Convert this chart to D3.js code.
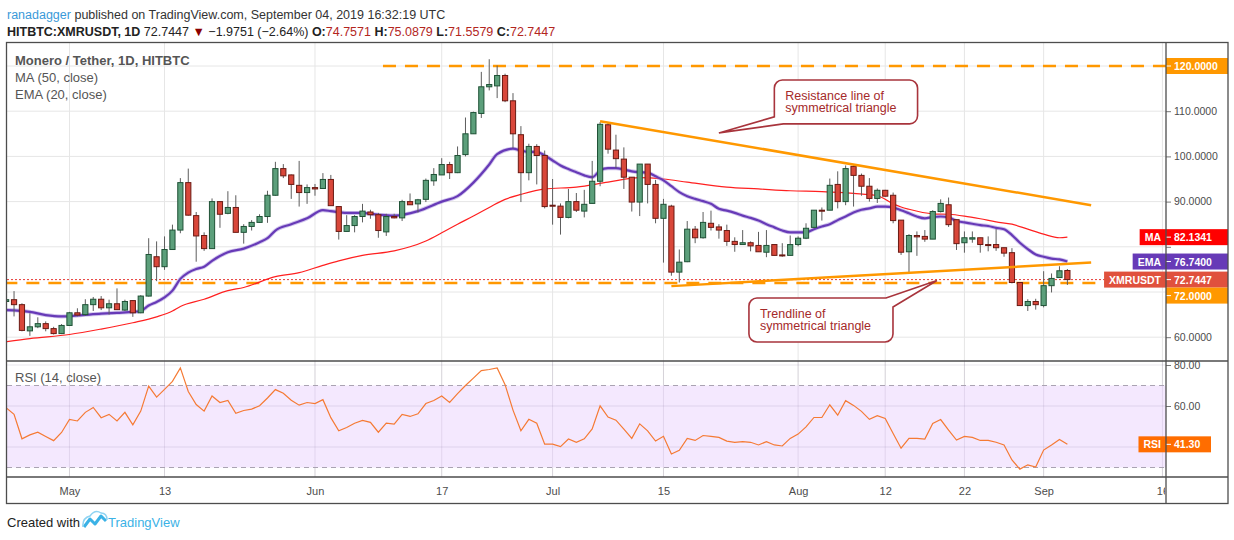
<!DOCTYPE html>
<html>
<head>
<meta charset="utf-8">
<script src="https://cdn.jsdelivr.net/npm/d3@7"></script>
<style>
  body { margin: 0; background: #fff; }
  svg { display: block; font-family: "Liberation Sans", Arial, sans-serif; }
</style>
</head>
<body>
<script>
// daily candles, 2019-04-23 .. 2019-09-04
let firstDay = '2019-04-23', lastDay = '2019-09-05'
let open = [67.9, 68.3, 67.2, 61.4, 62.3, 63.0, 61.9, 60.8,
  62.6, 65.4, 65.0, 67.2, 68.4, 66.5, 67.4, 66.0, 68.1, 65.4, 69.1, 77.8, 75.6, 79.4, 83.7, 94.2, 86.9, 82.5, 79.6, 90.0, 87.4, 88.7, 83.2, 84.5, 85.4, 86.7, 91.4, 97.3, 95.9, 93.6, 92.0,
  93.1, 92.9, 94.9, 88.9, 83.4, 84.7, 86.7, 87.7, 87.1, 83.3, 86.7, 86.4, 90.0, 89.5, 90.5, 94.6, 95.9, 98.2, 96.4, 100.4, 105.0, 109.5, 115.4, 115.6, 117.9, 112.3, 104.8, 96.4, 102.2, 100.2,
  89.2, 89.0, 86.5, 90.0, 87.9, 89.6, 94.5, 107.0, 101.4, 99.4, 95.4, 89.9, 98.3, 93.8, 86.3, 89.0, 74.4, 76.7, 83.9, 82.0, 85.2, 84.4, 83.6, 81.2, 80.5, 80.9, 80.3, 78.8, 80.5, 78.2, 78.1,
  80.5, 81.9, 84.3, 88.1, 88.1, 93.8, 90.0, 97.8, 95.8, 93.4, 90.7, 92.5, 91.4, 85.9, 78.9, 82.5, 82.3, 81.7, 87.8, 89.3, 86.0, 80.9, 81.7, 82.0, 80.5, 80.5, 79.8, 78.7, 72.1, 67.0, 67.9,
  67.0, 71.4, 73.2, 74.7571]
let high = [68.6, 70.2, 67.5, 65.3, 64.4, 63.5, 62.3, 62.9,
  65.6, 66.4, 68.4, 68.9, 69.1, 68.3, 70.8, 68.3, 68.2, 69.3, 81.9, 81.2, 82.3, 84.9, 95.2, 97.3, 87.7, 83.2, 90.7, 90.0, 92.3, 91.4, 85.0, 85.9, 87.2, 92.4, 98.8, 98.3, 96.0, 99.0, 93.8,
  93.9, 96.3, 95.9, 88.9, 87.0, 87.0, 89.5, 88.2, 87.5, 87.3, 87.3, 90.4, 91.8, 90.6, 95.1, 97.4, 99.6, 98.8, 102.2, 108.6, 109.9, 118.7, 121.5, 120.1, 118.3, 114.0, 106.7, 102.8, 102.7, 101.3,
  95.0, 89.6, 92.8, 91.9, 92.6, 99.0, 107.6, 107.6, 104.8, 102.0, 95.4, 98.3, 98.3, 94.8, 90.6, 89.3, 79.4, 85.7, 84.6, 87.7, 88.0, 85.0, 84.9, 82.1, 83.7, 81.2, 83.3, 83.7, 80.5, 80.8, 82.5,
  82.3, 85.2, 88.1, 88.7, 95.1, 96.7, 98.0, 98.0, 96.2, 95.2, 92.9, 92.6, 92.0, 85.9, 82.8, 83.4, 83.7, 88.1, 90.5, 90.9, 86.0, 83.4, 83.4, 82.0, 82.3, 83.9, 79.8, 79.7, 72.1, 68.4, 68.5,
  74.6, 74.1, 75.7, 75.0879]
let low = [67.5, 64.6, 61.3, 60.3, 62.0, 61.3, 60.6, 60.7,
  62.5, 64.6, 64.7, 65.8, 66.0, 65.0, 66.1, 65.8, 64.5, 65.3, 69.0, 72.4, 74.9, 79.3, 83.0, 86.9, 76.7, 79.1, 79.6, 84.2, 87.2, 83.2, 80.7, 83.6, 85.3, 85.3, 91.3, 95.2, 90.6, 88.9, 89.5,
  91.3, 92.9, 89.1, 81.6, 83.3, 83.2, 85.4, 86.2, 82.0, 82.4, 86.3, 85.7, 89.3, 87.6, 89.9, 93.5, 95.9, 95.0, 96.3, 100.0, 105.0, 108.5, 114.6, 112.9, 112.0, 101.8, 89.9, 94.7, 93.8, 88.5,
  84.9, 82.7, 86.3, 87.7, 86.5, 89.6, 93.4, 100.6, 97.4, 92.8, 87.8, 86.8, 89.6, 85.2, 76.5, 73.6, 72.1, 76.6, 80.8, 81.8, 83.6, 81.8, 80.2, 78.9, 80.5, 79.0, 78.9, 77.7, 78.1, 77.8, 78.1,
  80.1, 81.7, 84.1, 85.8, 88.1, 88.5, 89.2, 88.9, 91.3, 90.0, 89.7, 91.1, 85.2, 78.2, 74.3, 78.0, 81.1, 81.7, 87.6, 84.4, 79.3, 78.7, 80.9, 78.7, 79.0, 79.1, 77.8, 71.9, 66.9, 65.8, 66.1,
  66.6, 69.9, 73.2, 71.5579]
let close = [68.3, 67.2, 61.5, 62.3, 63.0, 61.9, 60.8, 62.6,
  65.4, 64.9, 67.2, 68.4, 66.5, 67.4, 66.1, 67.9, 65.4, 69.1, 78.3, 75.6, 79.4, 83.7, 94.2, 87.0, 82.4, 79.6, 90.0, 87.2, 88.7, 83.2, 84.5, 85.4, 86.7, 91.4, 97.3, 95.7, 93.8, 92.0, 93.1,
  92.8, 94.9, 89.1, 83.4, 84.7, 86.7, 87.9, 87.1, 83.6, 86.7, 86.4, 90.0, 89.3, 90.4, 94.7, 96.0, 98.2, 96.4, 100.2, 105.0, 109.7, 115.4, 115.9, 117.9, 112.3, 105.0, 96.4, 102.2, 100.2, 88.9,
  89.0, 86.5, 90.0, 88.1, 89.4, 94.5, 107.1, 101.6, 99.5, 95.4, 89.9, 98.3, 93.8, 86.3, 89.4, 74.4, 76.6, 83.9, 82.0, 85.4, 84.3, 83.7, 81.2, 80.5, 80.9, 80.2, 78.9, 80.3, 78.1, 78.0, 80.5,
  81.9, 84.1, 88.1, 88.0, 93.6, 90.0, 97.3, 95.8, 93.4, 90.7, 92.5, 91.2, 85.8, 78.8, 82.5, 82.2, 81.7, 87.8, 89.6, 84.9, 80.7, 82.0, 82.0, 80.5, 80.4, 79.8, 78.6, 72.1, 67.0, 67.9, 67.2,
  71.4, 73.0, 74.6951, 72.7447]

let rsi = [59.1, 55.9, 44.0, 45.9, 47.2, 45.1, 43.1, 47.1,
  53.5, 52.7, 56.9, 59.3, 54.3, 55.9, 52.7, 56.9, 50.8, 57.5, 69.7, 64.3, 68.1, 72.0, 78.6, 67.1, 60.7, 57.5, 64.9, 61.7, 62.7, 56.4, 57.8, 58.5, 60.1, 63.9, 68.0, 66.2, 62.8, 60.4, 61.7,
  61.2, 63.1, 54.3, 47.9, 49.5, 51.6, 53.0, 52.0, 47.2, 51.6, 51.2, 55.9, 54.9, 56.2, 61.2, 62.7, 64.9, 61.7, 66.0, 70.0, 73.6, 77.3, 77.8, 78.6, 70.4, 58.0, 47.9, 53.5, 51.6, 41.4,
  41.4, 40.2, 43.9, 42.3, 44.0, 48.8, 60.1, 54.6, 53.1, 48.7, 44.2, 51.3, 47.9, 42.9, 45.2, 36.6, 38.4, 44.2, 43.2, 45.6, 45.2, 44.7, 42.9, 42.3, 42.6, 42.3, 41.0, 42.6, 41.0, 40.5, 44.2,
  46.3, 49.8, 54.4, 54.4, 60.6, 55.5, 62.6, 60.3, 57.4, 53.5, 55.3, 53.9, 46.6, 39.4, 44.2, 44.2, 43.9, 51.5, 53.4, 48.2, 43.4, 45.2, 44.7, 43.2, 43.2, 42.3, 41.0, 33.7, 29.2, 31.3, 30.2,
  38.5, 41.0, 43.7, 41.3]

let maPoints = [['2019-04-23', 59.0], ['2019-04-26', 59.7], ['2019-05-01', 60.6], ['2019-05-05', 61.8], ['2019-05-09', 63.2],
  ['2019-05-12', 64.5], ['2019-05-14', 65.8], ['2019-05-15', 66.8], ['2019-05-18', 68.4], ['2019-05-21', 70.3], ['2019-05-23', 71.0],
  ['2019-05-27', 73.4], ['2019-05-30', 74.3], ['2019-06-02', 75.9], ['2019-06-04', 76.9], ['2019-06-07', 78.1], ['2019-06-11', 79.1],
  ['2019-06-13', 80.0], ['2019-06-15', 81.3], ['2019-06-17', 83.1], ['2019-06-19', 85.0], ['2019-06-21', 86.8], ['2019-06-23', 88.7],
  ['2019-06-25', 90.5], ['2019-06-27', 91.6], ['2019-06-30', 92.8], ['2019-07-04', 93.2], ['2019-07-08', 94.3], ['2019-07-12', 95.3],
  ['2019-07-15', 95.0], ['2019-07-18', 94.3], ['2019-07-23', 93.2], ['2019-07-27', 92.8], ['2019-07-31', 92.4], ['2019-08-04', 92.2],
  ['2019-08-08', 91.8], ['2019-08-11', 91.3], ['2019-08-13', 89.5], ['2019-08-14', 88.8], ['2019-08-15', 88.3], ['2019-08-18', 87.3],
  ['2019-08-20', 87.2], ['2019-08-22', 86.8], ['2019-08-24', 86.2], ['2019-08-26', 85.5], ['2019-08-28', 85.0], ['2019-08-30', 83.9],
  ['2019-09-01', 82.8], ['2019-09-03', 82.0], ['2019-09-04', 82.1341]]

let emaPoints = [['2019-04-23', 66.0], ['2019-04-26', 65.6], ['2019-04-28', 64.9], ['2019-04-30', 64.6], ['2019-05-02', 64.8],
  ['2019-05-05', 65.2], ['2019-05-07', 65.4], ['2019-05-09', 65.6], ['2019-05-10', 65.8], ['2019-05-11', 67.0], ['2019-05-12', 67.8],
  ['2019-05-13', 68.8], ['2019-05-14', 70.3], ['2019-05-15', 72.9], ['2019-05-16', 74.3], ['2019-05-17', 75.1], ['2019-05-18', 75.6],
  ['2019-05-19', 76.9], ['2019-05-21', 78.8], ['2019-05-23', 79.6], ['2019-05-25', 81.0], ['2019-05-26', 81.9], ['2019-05-27', 83.6],
  ['2019-05-29', 85.0], ['2019-05-31', 86.3], ['2019-06-02', 88.1], ['2019-06-03', 87.9], ['2019-06-05', 87.5], ['2019-06-07', 87.5],
  ['2019-06-08', 87.3], ['2019-06-11', 86.9], ['2019-06-14', 87.9], ['2019-06-17', 90.0], ['2019-06-19', 91.2], ['2019-06-21', 94.2],
  ['2019-06-23', 98.2], ['2019-06-24', 100.5], ['2019-06-26', 101.7], ['2019-06-27', 101.3], ['2019-06-28', 101.0], ['2019-06-29', 101.0],
  ['2019-06-30', 100.2], ['2019-07-01', 99.1], ['2019-07-02', 98.0], ['2019-07-03', 97.2], ['2019-07-04', 96.5], ['2019-07-05', 95.8],
  ['2019-07-06', 95.4], ['2019-07-07', 96.9], ['2019-07-08', 97.4], ['2019-07-09', 97.4], ['2019-07-10', 97.1], ['2019-07-11', 96.7],
  ['2019-07-12', 96.5], ['2019-07-13', 96.4], ['2019-07-14', 95.6], ['2019-07-15', 94.7], ['2019-07-16', 93.4], ['2019-07-17', 92.1],
  ['2019-07-18', 91.2], ['2019-07-19', 90.6], ['2019-07-20', 90.1], ['2019-07-21', 89.5], ['2019-07-22', 88.4], ['2019-07-23', 88.0],
  ['2019-07-24', 87.5], ['2019-07-25', 86.9], ['2019-07-26', 86.4], ['2019-07-27', 85.8], ['2019-07-28', 85.0], ['2019-07-29', 84.3],
  ['2019-07-30', 83.6], ['2019-07-31', 83.2], ['2019-08-01', 83.2], ['2019-08-02', 83.2], ['2019-08-03', 83.9], ['2019-08-04', 84.5],
  ['2019-08-05', 85.0], ['2019-08-06', 85.9], ['2019-08-07', 86.7], ['2019-08-08', 87.6], ['2019-08-09', 88.2], ['2019-08-10', 88.5],
  ['2019-08-11', 88.9], ['2019-08-12', 88.9], ['2019-08-13', 88.7], ['2019-08-14', 88.1], ['2019-08-15', 87.4], ['2019-08-16', 86.7],
  ['2019-08-17', 86.3], ['2019-08-18', 86.6], ['2019-08-19', 86.7], ['2019-08-20', 86.5], ['2019-08-21', 85.7], ['2019-08-22', 85.4],
  ['2019-08-23', 85.1], ['2019-08-24', 84.8], ['2019-08-25', 84.6], ['2019-08-26', 84.2], ['2019-08-27', 83.9], ['2019-08-28', 82.6],
  ['2019-08-29', 80.9], ['2019-08-30', 79.5], ['2019-08-31', 78.3], ['2019-09-01', 77.8], ['2019-09-02', 77.4], ['2019-09-03', 77.2],
  ['2019-09-04', 76.74]]

let priceTicks = [60, 70, 80, 90, 100, 110, 120]
let priceTickLabels = [60, 80, 90, 100, 110]
let rsiTicks = [40, 60, 80]
let rsiTickLabels = [60, 80]
let xTickDates = ['2019-05-01', '2019-05-13', '2019-06-01', '2019-06-17', '2019-07-01', '2019-07-15', '2019-08-01', '2019-08-12', '2019-08-22', '2019-09-01', '2019-09-16']
let xTickLabels = ['May', '13', 'Jun', '17', 'Jul', '15', 'Aug', '12', '22', 'Sep', '16']

// drawings on the chart
let hLevels = [{ from: '2019-06-09T14:00Z', price: 120 }, { from: '2019-04-20', price: 72 }]
let triangleLines = [
  [['2019-07-07', 107.8], ['2019-09-07', 89.2]],
  [['2019-07-16', 71.3], ['2019-09-07', 76.5]]
]
let notes = [
  { lines: ['Resistance line of', 'symmetrical triangle'], x0: '2019-07-29', x1: '2019-08-16T02:00Z', top: 116.9, bottom: 107.2, tip: ['2019-07-22', 105.2], corner: 'bl' },
  { lines: ['Trendline of', 'symmetrical triangle'], x0: '2019-07-25T19:00Z', x1: '2019-08-12T23:30Z', top: 68.67, bottom: 58.94, tip: ['2019-08-18T12:40Z', 72.54], corner: 'tr' }
]

let W = 1234, H = 540
let plotLeft = 7, plotRight = 1166, frameRight = 1228
let mainTop = 42, mainBottom = 361, rsiBottom = 477, frameBottom = 503
let upFill = '#5c9f7b', upLine = '#1f5236', downFill = '#d9473a', downLine = '#6a1a13'
let orange = '#ff9800', gridColor = '#e6e6e6', frameColor = '#4d4d4d', axisText = '#4c4c4c'
let font = '"Liberation Sans", Arial, sans-serif'

let days = d3.utcDay.range(new Date(firstDay), new Date(lastDay))
let candles = days.map((d, i) => ({ date: d, o: open[i], h: high[i], l: low[i], c: close[i], rsi: rsi[i] }))

let x = d3.scaleUtc()
  .domain([new Date('2019-04-23T02:40Z'), new Date('2019-09-16T10:50Z')])
  .range([plotLeft, plotRight])
let y = d3.scaleLinear().domain([60, 120]).range([337.2, 66])
let yRsi = d3.scaleLinear().domain([40, 80]).range([447, 365])

let svg = d3.select('body').append('svg')
  .attr('width', W)
  .attr('height', H)

let defs = svg.append('defs')
defs.append('clipPath').attr('id', 'clipMain').append('rect')
  .attr('x', plotLeft).attr('y', mainTop).attr('width', plotRight - plotLeft).attr('height', mainBottom - mainTop)
defs.append('clipPath').attr('id', 'clipRsi').append('rect')
  .attr('x', plotLeft).attr('y', mainBottom).attr('width', plotRight - plotLeft).attr('height', rsiBottom - mainBottom)
defs.append('clipPath').attr('id', 'clipAxis').append('rect')
  .attr('x', 0).attr('y', rsiBottom).attr('width', plotRight - 1).attr('height', frameBottom - rsiBottom)
defs.append('clipPath').attr('id', 'clipBelowMa').append('rect')
  .attr('x', plotRight).attr('y', 246).attr('width', frameRight - plotRight).attr('height', 20)

// header
let head1 = svg.append('text').attr('x', 7).attr('y', 19).attr('font-size', 12.5).attr('fill', '#333')
head1.append('tspan').attr('fill', '#3a9ad9').text('ranadagger')
head1.append('tspan').text(' published on TradingView.com, September 04, 2019 16:32:19 UTC')

let head2 = svg.append('text').attr('x', 7).attr('y', 36).attr('font-size', 12.5).attr('fill', '#222')
let valRed = '#b3261e'
let headParts = [
  ['HITBTC:XMRUSDT, 1D', 'bold', '#222'], [' 72.7447 ', 'normal', '#222'], ['\u25BC', 'normal', '#8b0000'],
  [' \u22121.9751 (\u22122.64%) ', 'normal', '#222'],
  ['O:', 'bold', '#222'], ['74.7571', 'normal', valRed], [' H:', 'bold', '#222'], ['75.0879', 'normal', valRed],
  [' L:', 'bold', '#222'], ['71.5579', 'normal', valRed], [' C:', 'bold', '#222'], ['72.7447', 'normal', valRed]
]
headParts.forEach(p => head2.append('tspan').attr('font-weight', p[1]).attr('fill', p[2]).text(p[0]))

// grids
let grid = svg.append('g')
grid.selectAll('line.v').data(xTickDates).enter().append('line')
  .attr('x1', d => x(new Date(d))).attr('x2', d => x(new Date(d)))
  .attr('y1', mainTop).attr('y2', rsiBottom)
  .attr('stroke', gridColor)
grid.selectAll('line.h').data(priceTicks).enter().append('line')
  .attr('x1', plotLeft).attr('x2', plotRight)
  .attr('y1', d => y(d)).attr('y2', d => y(d))
  .attr('stroke', gridColor)

// rsi background band
let rsiG = svg.append('g').attr('clip-path', 'url(#clipRsi)')
rsiG.append('rect')
  .attr('x', plotLeft).attr('width', plotRight - plotLeft)
  .attr('y', yRsi(70)).attr('height', yRsi(30) - yRsi(70))
  .attr('fill', '#f4e8fe')
rsiG.selectAll('line.g').data(rsiTicks).enter().append('line')
  .attr('x1', plotLeft).attr('x2', plotRight)
  .attr('y1', d => yRsi(d)).attr('y2', d => yRsi(d))
  .attr('stroke', 'rgba(120,100,140,0.16)')
rsiG.selectAll('line.v').data(xTickDates).enter().append('line')
  .attr('x1', d => x(new Date(d))).attr('x2', d => x(new Date(d)))
  .attr('y1', mainBottom).attr('y2', rsiBottom)
  .attr('stroke', 'rgba(120,100,140,0.14)')
rsiG.selectAll('line.band').data([70, 30]).enter().append('line')
  .attr('x1', plotLeft).attr('x2', plotRight)
  .attr('y1', d => yRsi(d)).attr('y2', d => yRsi(d))
  .attr('stroke', '#aaa3b2').attr('stroke-dasharray', '5,4')
rsiG.append('path')
  .datum(candles)
  .attr('d', d3.line().x(d => x(d.date)).y(d => yRsi(d.rsi)))
  .attr('fill', 'none').attr('stroke', '#f57a34').attr('stroke-width', 1.2)

// main pane
let main = svg.append('g').attr('clip-path', 'url(#clipMain)')

main.selectAll('line.lvl').data(hLevels).enter().append('line')
  .attr('x1', d => x(new Date(d.from))).attr('x2', plotRight)
  .attr('y1', d => y(d.price)).attr('y2', d => y(d.price))
  .attr('stroke', orange).attr('stroke-width', 2.5).attr('stroke-dasharray', '13,9')

main.append('line')
  .attr('x1', plotLeft).attr('x2', plotRight)
  .attr('y1', y(close[close.length - 1])).attr('y2', y(close[close.length - 1]))
  .attr('stroke', '#e53935').attr('stroke-dasharray', '2,2')

let toXY = p => [x(new Date(p[0])), y(p[1])]
let smooth = d3.line().x(p => toXY(p)[0]).y(p => toXY(p)[1]).curve(d3.curveMonotoneX)

main.append('path').attr('d', smooth(maPoints))
  .attr('fill', 'none').attr('stroke', '#ff2020').attr('stroke-width', 1.2)
main.append('path').attr('d', smooth(emaPoints))
  .attr('fill', 'none').attr('stroke', '#9a7fd6').attr('stroke-width', 4).attr('stroke-opacity', 0.45)
main.append('path').attr('d', smooth(emaPoints))
  .attr('fill', 'none').attr('stroke', '#673ab7').attr('stroke-width', 2.2)

main.selectAll('line.wick').data(candles).enter().append('line')
  .attr('x1', d => x(d.date)).attr('x2', d => x(d.date))
  .attr('y1', d => y(d.h)).attr('y2', d => y(d.l))
  .attr('stroke', '#5d5d5d')
main.selectAll('rect.body').data(candles).enter().append('rect')
  .attr('x', d => x(d.date) - 2.6)
  .attr('width', 5.2)
  .attr('y', d => y(Math.max(d.o, d.c)))
  .attr('height', d => Math.max(1, Math.abs(y(d.o) - y(d.c))))
  .attr('fill', d => d.c >= d.o ? upFill : downFill)
  .attr('stroke', d => d.c >= d.o ? upLine : downLine)
  .attr('stroke-width', 1)

main.selectAll('line.tri').data(triangleLines).enter().append('line')
  .attr('x1', d => toXY(d[0])[0]).attr('y1', d => toXY(d[0])[1])
  .attr('x2', d => toXY(d[1])[0]).attr('y2', d => toXY(d[1])[1])
  .attr('stroke', orange).attr('stroke-width', 2.5)

// callouts
let calloutPath = n => {
  let x0 = x(new Date(n.x0)), x1 = x(new Date(n.x1)), y0 = y(n.top), y1 = y(n.bottom), r = 8
  let t = toXY(n.tip)
  if (n.corner === 'bl') {
    return 'M ' + (x0 + r) + ' ' + y0 + ' H ' + (x1 - r) + ' A ' + r + ' ' + r + ' 0 0 1 ' + x1 + ' ' + (y0 + r) +
      ' V ' + (y1 - r) + ' A ' + r + ' ' + r + ' 0 0 1 ' + (x1 - r) + ' ' + y1 +
      ' H ' + (x0 + 9) + ' L ' + t[0] + ' ' + t[1] + ' L ' + x0 + ' ' + (y1 - 7) +
      ' V ' + (y0 + r) + ' A ' + r + ' ' + r + ' 0 0 1 ' + (x0 + r) + ' ' + y0 + ' Z'
  }
  return 'M ' + (x0 + r) + ' ' + y0 + ' H ' + (x1 - 7) + ' L ' + t[0] + ' ' + t[1] + ' L ' + x1 + ' ' + (y0 + 9) +
    ' V ' + (y1 - r) + ' A ' + r + ' ' + r + ' 0 0 1 ' + (x1 - r) + ' ' + y1 +
    ' H ' + (x0 + r) + ' A ' + r + ' ' + r + ' 0 0 1 ' + x0 + ' ' + (y1 - r) +
    ' V ' + (y0 + r) + ' A ' + r + ' ' + r + ' 0 0 1 ' + (x0 + r) + ' ' + y0 + ' Z'
}
notes.forEach(n => {
  main.append('path').attr('d', calloutPath(n))
    .attr('fill', '#fff').attr('stroke', '#a8343c').attr('stroke-width', 1.6)
  n.lines.forEach((line, i) => {
    main.append('text')
      .attr('x', x(new Date(n.x0)) + 11)
      .attr('y', y(n.top) + 19.5 + i * 12.8)
      .attr('font-size', 12.5).attr('fill', '#a52a2a')
      .text(line)
  })
})

// legends
svg.append('text').attr('x', 15).attr('y', 65).attr('font-size', 13).attr('font-weight', 'bold').attr('fill', '#555').text('Monero / Tether, 1D, HITBTC')
svg.append('text').attr('x', 15).attr('y', 82).attr('font-size', 13).attr('fill', '#555').text('MA (50, close)')
svg.append('text').attr('x', 15).attr('y', 99).attr('font-size', 13).attr('fill', '#555').text('EMA (20, close)')
svg.append('text').attr('x', 15).attr('y', 382).attr('font-size', 13).attr('fill', '#555').text('RSI (14, close)')

// axes
let styleAxis = a => {
  a.select('.domain').remove()
  a.selectAll('text').attr('font-family', font).attr('font-size', 10.5).attr('fill', axisText)
  a.selectAll('line').attr('stroke', '#777')
}
let priceAxis = svg.append('g').attr('transform', 'translate(' + plotRight + ',0)')
  .call(d3.axisRight(y).tickValues(priceTicks).tickFormat(d => priceTickLabels.includes(d) ? d3.format('.4f')(d) : '').tickSize(5).tickPadding(3))
styleAxis(priceAxis)
priceAxis.selectAll('.tick').filter(d => d === 80).select('text').attr('clip-path', 'url(#clipBelowMa)')
let rsiAxis = svg.append('g').attr('transform', 'translate(' + plotRight + ',0)')
  .call(d3.axisRight(yRsi).tickValues(rsiTicks).tickFormat(d => rsiTickLabels.includes(d) ? d3.format('.2f')(d) : '').tickSize(5).tickPadding(3))
styleAxis(rsiAxis)
let timeAxis = svg.append('g').attr('clip-path', 'url(#clipAxis)')
  .append('g').attr('transform', 'translate(0,' + rsiBottom + ')')
  .call(d3.axisBottom(x).tickValues(xTickDates.map(d => new Date(d))).tickFormat((d, i) => xTickLabels[i]).tickSize(0).tickPadding(10))
styleAxis(timeAxis)
timeAxis.selectAll('text').attr('font-size', 11)

// value tags on the price scale
let tags = [
  { price: 120, text: '120.0000', color: orange },
  { price: 82.1341, text: '82.1341', color: '#ff0000', name: 'MA' },
  { price: 76.74, text: '76.7400', color: '#673ab7', name: 'EMA' },
  { price: close[close.length - 1], text: '72.7447', color: '#e0513d', name: 'XMRUSDT' },
  { price: 72, text: '72.0000', color: orange }
]
let drawTag = (cy, text, color, name, w) => {
  svg.append('rect').attr('x', plotRight).attr('y', cy - 8).attr('width', w).attr('height', 16).attr('fill', color)
  svg.append('line').attr('x1', plotRight).attr('x2', plotRight + 5).attr('y1', cy).attr('y2', cy).attr('stroke', '#fff')
  svg.append('text').attr('x', plotRight + 8).attr('y', cy + 4).attr('font-size', 10.5).attr('font-weight', 'bold').attr('fill', '#fff').text(text)
  if (name) {
    let lbl = svg.append('text').attr('y', cy + 4).attr('font-size', 10.5).attr('font-weight', 'bold').attr('fill', '#fff').text(name)
    let tw = lbl.node().getComputedTextLength() + 10
    svg.insert('rect', () => lbl.node()).attr('x', plotRight - tw).attr('y', cy - 8).attr('width', tw).attr('height', 16).attr('fill', color)
    lbl.attr('x', plotRight - tw + 5)
  }
}
let lastBottom = -Infinity
tags.sort((a, b) => b.price - a.price).forEach(t => {
  let cy = Math.max(y(t.price), lastBottom + 8)
  lastBottom = cy + 8
  drawTag(cy, t.text, t.color, t.name, frameRight - plotRight)
})
drawTag(yRsi(41.3), '41.30', '#ff6d00', 'RSI', 45)

// frame and pane separators
svg.append('rect').attr('x', 6.5).attr('y', mainTop + 0.5).attr('width', frameRight - 6.5).attr('height', frameBottom - mainTop)
  .attr('fill', 'none').attr('stroke', frameColor).attr('stroke-width', 1.3)
svg.append('line').attr('x1', 6.5).attr('x2', frameRight).attr('y1', mainBottom).attr('y2', mainBottom).attr('stroke', frameColor).attr('stroke-width', 1.3)
svg.append('line').attr('x1', 6.5).attr('x2', frameRight).attr('y1', rsiBottom).attr('y2', rsiBottom).attr('stroke', frameColor).attr('stroke-width', 1.3)
svg.append('line').attr('x1', plotRight).attr('x2', plotRight).attr('y1', mainTop).attr('y2', frameBottom).attr('stroke', frameColor).attr('stroke-width', 1.3)

// footer
svg.append('text').attr('x', 7).attr('y', 527).attr('font-size', 13).attr('fill', '#222').text('Created with')
svg.append('path').attr('d', 'M 84 527 L 90 519 L 95 524 L 101 516 L 106 521')
  .attr('fill', 'none').attr('stroke', '#3bb2e6').attr('stroke-width', 3).attr('stroke-linejoin', 'round')
svg.append('path').attr('d', 'M 83 527 Q 82 518 90 516 Q 95 509 101 513 Q 107 513 107 520')
  .attr('fill', 'none').attr('stroke', '#8fd3f2').attr('stroke-width', 1.5)
svg.append('text').attr('x', 108).attr('y', 527).attr('font-size', 13).attr('fill', '#3bb2e6').text('TradingView')
</script>
</body>
</html>
